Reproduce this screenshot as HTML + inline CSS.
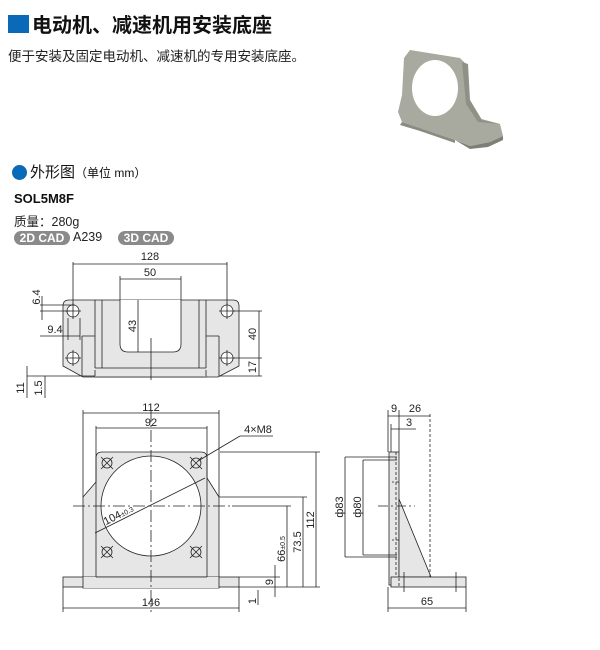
<!DOCTYPE html>
<html><head><meta charset="utf-8"><style>
body{margin:0;background:#fff;width:600px;height:650px;overflow:hidden;position:relative;font-family:"Liberation Sans","Noto Sans CJK SC",sans-serif;}
.a{position:absolute;white-space:nowrap;}
.b{position:absolute;background:#8a8a8a;color:#fff;font-weight:bold;font-size:12px;border-radius:8px;height:14px;line-height:14px;text-align:center;}
</style></head><body>
<div class="a" style="left:8px;top:15px;width:21px;height:18px;background:#0a6ab8"></div>
<div class="a" style="left:32px;top:9px;font-size:20px;font-weight:bold;color:#111">电动机、减速机用安装底座</div>
<div class="a" style="left:8px;top:45px;font-size:13.5px;color:#222">便于安装及固定电动机、减速机的专用安装底座。</div>
<div class="a" style="left:12px;top:165px;width:15px;height:15px;border-radius:50%;background:#0a6ab8"></div>
<div class="a" style="left:30px;top:161px;font-size:15px;color:#111">外形图<span style="font-size:12px">（单位 mm）</span></div>
<div class="a" style="left:14px;top:191px;font-size:13px;font-weight:bold;color:#111">SOL5M8F</div>
<div class="a" style="left:14px;top:211px;font-size:12.5px;color:#222">质量：280g</div>
<div class="b" style="left:14px;top:231px;width:56px">2D CAD</div>
<div class="a" style="left:73px;top:230px;font-size:12.5px;color:#222">A239</div>
<div class="b" style="left:118px;top:231px;width:56px">3D CAD</div>
<svg class="a" style="left:0;top:0" width="600" height="650" font-family="Liberation Sans, sans-serif" font-size="11" fill="#222">
<!-- photo -->
<g>
<polygon points="404,58 410,50 460,58 466,64 466,100 478,118 500,124 503,136 490,142 470,146 455,140 420,128 402,122 398,112 402,95" fill="#a8aa9f"/>
<polygon points="462,62 468,64 470,100 482,120 500,124 478,122 466,104" fill="#8f9186"/>
<polygon points="455,140 470,146 490,142 503,136 503,140 488,147 470,149" fill="#7e8076"/>
<polygon points="402,122 420,128 455,140 455,143 420,131 400,125" fill="#8a8c82"/>
<ellipse cx="435" cy="88" rx="23" ry="28" fill="#fff"/>
</g>
<g stroke="#222" stroke-width="0.8" fill="none">
<!-- top view -->
<path d="M69,300 H233 Q239,300 239,306 V366 L218,377 H83 L63,366 V306 Q63,300 69,300Z" fill="#e6e6e6"/>
<path d="M120,300 V344 Q120,352 128,352 H173 Q181,352 181,344 V300" fill="#fff"/>
<path d="M95,300V368 M102,300V368 M199,300V368 M206,300V368 M95,368H206 M95,377V370 M206,377V370 M82,336H95 M206,336H219 M82,336V376 M219,336V376"/>
<path d="M95,377H206" stroke-width="2" stroke="#999"/>
<g stroke-width="0.8"><circle cx="73" cy="311" r="6" fill="#fff"/><circle cx="227" cy="311" r="6" fill="#fff"/><circle cx="73" cy="358" r="6" fill="#fff"/><circle cx="227" cy="358" r="6" fill="#fff"/></g>
<path d="M65,311H81 M73,303V319 M219,311H235 M227,303V319 M65,358H81 M73,350V366 M219,358H235 M227,350V366 M151,338V380"/>
<path d="M73,262V305 M227,262V305 M73,264H227 M120,276V300 M181,276V300 M120,279H181 M138,300V352 M40,305H75 M40,311H70 M42,296V320 M68,318V340 M80,318V340 M40,336H80 M233,311H262 M233,358H262 M219,376H262 M259,311V376 M27,376H63 M27,366V398 M45,376V398 M40,376H95"/>
<!-- front view -->
<path d="M83,588 V497 L96,482 V458 Q96,452 102,452 H201 Q207,452 207,458 V478 L219,497 V588 Z" fill="#e6e6e6"/>
<rect x="63" y="577" width="176" height="10" fill="#e6e6e6"/>
<rect x="83" y="577" width="136" height="11" fill="#e6e6e6" stroke="none"/>
<path d="M83,577V588 M219,577V588 M96,482V577 M207,478V577 M96,577H207"/>
<circle cx="151" cy="506" r="50" fill="#fff"/>
<g><circle cx="107" cy="463" r="5"/><circle cx="196" cy="463" r="5"/><circle cx="107" cy="552" r="5"/><circle cx="196" cy="552" r="5"/>
<path d="M101,457L113,469M113,457L101,469M190,457L202,469M202,457L190,469M101,546L113,558M113,546L101,558M190,546L202,558M202,546L190,558"/></g>
<path d="M73,506H232 M151,410V612" stroke-dasharray="12,3,2,3"/>
<path d="M83,410V497 M219,410V497 M83,413H219 M96,426V482 M207,426V478 M96,428H207 M240,436H273 M240,436L198,461 M95,533L205,478 M220,452H320 M219,497H307 M232,506H291 M239,587H320 M287,506V587 M303,497V587 M316,452V587 M239,577H280 M275,565V597 M258,590V605 M63,587V612 M239,587V612 M63,608H239"/>
<!-- side view -->
<rect x="389" y="452" width="10" height="133" fill="#e6e6e6"/>
<polygon points="399,499 431,577 399,577" fill="#e6e6e6"/>
<rect x="391" y="577" width="75" height="10" fill="#e6e6e6"/>
<path d="M396,452V577 M399,482H392 M399,540H392" stroke-dasharray="3,2"/>
<path d="M430,414V577" stroke-dasharray="3,2"/>
<path d="M399,586V577" stroke-dasharray="3,2"/>
<path d="M404,572V592 M456,572V592"/>
<path d="M378,506H415" stroke-dasharray="10,3,2,3"/>
<path d="M388,410V452 M399,410V452 M388,416H430 M391,424V452 M391,429H416 M345,457H397 M363,460H397 M345,557H397 M363,555H397 M345,457V557 M363,460V555 M388,587V612 M466,587V612 M388,608H466"/>
</g>
<g font-size="11" text-anchor="middle">
<text x="150" y="260">128</text><text x="150" y="276">50</text>
<text x="55" y="333">9.4</text>
<text transform="translate(136,326) rotate(-90)">43</text>
<text transform="translate(40,297) rotate(-90)">6.4</text>
<text transform="translate(256,334) rotate(-90)">40</text>
<text transform="translate(256,367) rotate(-90)">17</text>
<text transform="translate(24,388) rotate(-90)">11</text>
<text transform="translate(42,388) rotate(-90)">1.5</text>
<text x="151" y="411">112</text><text x="151" y="426">92</text>
<text x="258" y="433">4×M8</text>
<text transform="translate(120,518) rotate(-27)">104<tspan font-size="7">±0.3</tspan></text>
<text transform="translate(285,549) rotate(-90)">66<tspan font-size="7">±0.5</tspan></text>
<text transform="translate(301,542) rotate(-90)">73.5</text>
<text transform="translate(314,520) rotate(-90)">112</text>
<text transform="translate(273,582) rotate(-90)">9</text>
<text transform="translate(256,601) rotate(-90)">1</text>
<text x="151" y="606">146</text>
<text x="394" y="412">9</text><text x="415" y="412">26</text><text x="409" y="426">3</text>
<text transform="translate(343,507) rotate(-90)">ф83</text>
<text transform="translate(361,507) rotate(-90)">ф80</text>
<text x="427" y="605">65</text>
</g>
</svg>
</body></html>
